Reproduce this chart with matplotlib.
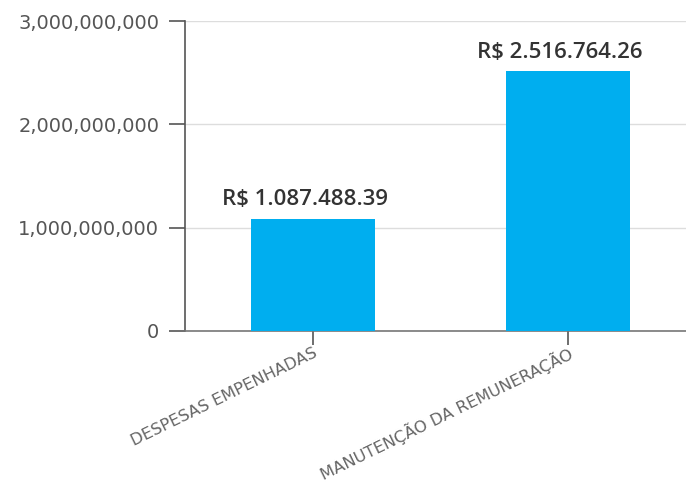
import matplotlib
matplotlib.use("Agg")
import matplotlib.pyplot as plt
from matplotlib.ticker import FuncFormatter

categories = ["DESPESAS EMPENHADAS", "MANUTENÇÃO DA REMUNERAÇÃO"]
values = [1087488390, 2516764260]
value_labels = ["R$ 1.087.488.39", "R$ 2.516.764.26"]
yticks = [0, 1000000000, 2000000000, 3000000000]

fig = plt.figure(figsize=(6.86, 4.90), dpi=100)
ax = fig.add_axes([185/686, (490-331)/490, (686-185)/686, (331-21)/490])

x = list(range(len(categories)))
bars = ax.bar(x, values, width=0.486, color="#00AEEF", zorder=3)

ax.set_xlim(-0.502, 1.463)
ax.set_ylim(0, 3000000000)
ax.set_yticks(yticks)
ax.yaxis.set_major_formatter(FuncFormatter(lambda v, p: f"{int(v):,}"))
ax.grid(axis="y", color="#dddddd", linewidth=1, zorder=0)

for sp in ["top", "right"]:
    ax.spines[sp].set_visible(False)
ax.spines["left"].set_color("#555555")
ax.spines["bottom"].set_color("#777777")
ax.spines["left"].set_linewidth(1.2)
ax.spines["bottom"].set_linewidth(1.2)

ax.tick_params(axis="y", length=11.5, width=1.2, color="#555555", pad=7,
               labelsize=14, labelcolor="#555555")
ax.tick_params(axis="x", length=10, width=1.2, color="#555555", pad=0,
               labelsize=11.8, labelcolor="#666666")
for lbl in ax.get_yticklabels():
    lbl.set_fontfamily("DejaVu Sans")

ax.set_xticks(x)
ax.set_xticklabels(categories, rotation=26, ha="right", rotation_mode="anchor",
                   fontfamily="DejaVu Sans")

for xi, v, t in zip(x, values, value_labels):
    ax.annotate(t, (xi, v), xytext=(-6, 6), textcoords="offset points",
                ha="center", va="bottom", fontsize=16, fontweight="semibold",
                family="Open Sans", color="#333333")

fig.savefig("out.png", dpi=100)
